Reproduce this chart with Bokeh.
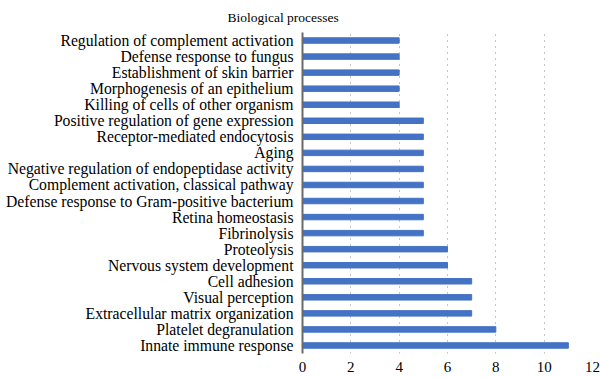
from bokeh.plotting import figure
from bokeh.models import FactorRange, Range1d, FixedTicker, Title
from bokeh.embed import file_html
from bokeh.resources import INLINE

processes = [
    "Regulation of complement activation",
    "Defense response to fungus",
    "Establishment of skin barrier",
    "Morphogenesis of an epithelium",
    "Killing of cells of other organism",
    "Positive regulation of gene expression",
    "Receptor-mediated endocytosis",
    "Aging",
    "Negative regulation of endopeptidase activity",
    "Complement activation, classical pathway",
    "Defense response to Gram-positive bacterium",
    "Retina homeostasis",
    "Fibrinolysis",
    "Proteolysis",
    "Nervous system development",
    "Cell adhesion",
    "Visual perception",
    "Extracellular matrix organization",
    "Platelet degranulation",
    "Innate immune response",
]
counts = [4, 4, 4, 4, 4, 5, 5, 5, 5, 5, 5, 5, 5, 6, 6, 7, 7, 7, 8, 11]
x_ticks = [0, 2, 4, 6, 8, 10, 12]
title_text = "Biological processes"

FONT = "'Liberation Serif', 'DejaVu Serif', serif"

p = figure(
    width=600, height=377,
    y_range=FactorRange(factors=list(reversed(processes)), range_padding=0),
    x_range=Range1d(0, 12),
    output_backend="svg", toolbar_location=None,
    min_border_left=302, min_border_right=8, min_border_top=32, min_border_bottom=24,
)
p.outline_line_color = None
p.background_fill_color = "white"
p.border_fill_color = "white"

t = Title(text=title_text, align="left", offset=-75,
          text_font=FONT, text_font_size="13.5px", text_color="black",
          text_font_style="normal", standoff=15)
p.add_layout(t, "above")

p.hbar(y=processes, right=counts, left=0, height=0.34, color="#4472C4")

p.xaxis.ticker = FixedTicker(ticks=x_ticks)
p.xaxis.axis_line_color = None
p.xaxis.major_tick_line_color = None
p.xaxis.minor_tick_line_color = None
p.xaxis.major_label_text_font = FONT
p.xaxis.major_label_text_font_size = "15px"
p.xaxis.major_label_text_color = "black"
p.xaxis.major_label_standoff = 2

p.yaxis.axis_line_color = "#6b6b6b"
p.yaxis.axis_line_width = 2
p.yaxis.major_tick_line_color = None
p.yaxis.minor_tick_line_color = None
p.yaxis.major_label_text_font = FONT
p.yaxis.major_label_text_font_size = "15.7px"
p.yaxis.major_label_text_color = "black"
p.yaxis.major_label_standoff = 3

p.ygrid.grid_line_color = None
p.xgrid.grid_line_color = "#8c8c8c"
p.xgrid.grid_line_dash = "1 5"
p.xgrid.grid_line_width = 1

open("out.html", "w").write(file_html(p, INLINE))
